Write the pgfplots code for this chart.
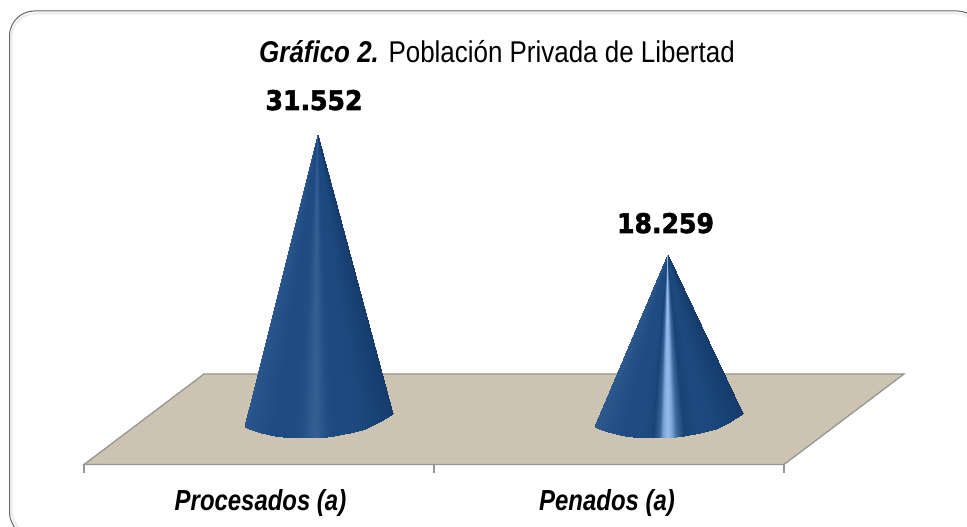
\documentclass[border=0pt]{standalone}
\usepackage{pgfplots}
\pgfplotsset{compat=1.18}
\usepgfplotslibrary{patchplots}
\usepackage{fontspec}
\setmainfont{Liberation Sans}
\newfontfamily\numfont[FakeBold=2.2]{DejaVu Sans Bold}
\definecolor{floorc}{RGB}{204,195,176}
\definecolor{floorl}{RGB}{150,150,146}
\begin{document}
\begin{tikzpicture}
\begin{axis}[
  scale only axis, width=967pt, height=527pt,
  xmin=0, xmax=967, ymin=-11878, ymax=46514,
  hide axis,
  point meta min=0, point meta max=1,
  colormap={cone}{rgb255(0cm)=(18,54,98); rgb255(2cm)=(28,73,127); rgb255(5cm)=(58,102,154); rgb255(10cm)=(150,188,239)},
]
\fill[white] (rel axis cs:0,0) rectangle (rel axis cs:1,1);
% frame
\draw[black!7, line width=2pt, rounded corners=24pt] (axis cs:11.5,45020) rectangle (axis cs:980,-12700);
\draw[black!60, line width=1pt, rounded corners=25pt] (axis cs:9.5,45297) rectangle (axis cs:982,-12989);
% floor
\addplot[fill=floorc, draw=floorl, line width=1.3pt] coordinates {(84,-4953)(784,-4953)(904,5075)(204,5075)} -- cycle;
\addplot[draw=floorl, line width=1.3pt] coordinates {(84,-4953)(84,-5895)};
\addplot[draw=floorl, line width=1.3pt] coordinates {(434,-4953)(434,-5895)};
\addplot[draw=floorl, line width=1.3pt] coordinates {(784,-4953)(784,-5895)};
% left cone: 31552
\addplot[patch, patch type=bilinear, shader=interp, point meta=explicit] table[x=x,y=y,meta=c] {
x y c
245 -798 .34
252 -1130 .3
318 31552 .3
318 31552 .34
252 -1130 .3
262 -1463 .26
318 31552 .26
318 31552 .3
262 -1463 .26
275 -1795 .22
318 31552 .22
318 31552 .26
275 -1795 .22
290 -1983 .22
318 31552 .22
318 31552 .22
290 -1983 .22
300 -2017 .24
318 31552 .24
318 31552 .22
300 -2017 .24
306 -2017 .3
318 31552 .3
318 31552 .24
306 -2017 .3
311 -2017 .37
318 31552 .37
318 31552 .3
311 -2017 .37
315 -2017 .43
318 31552 .43
318 31552 .37
315 -2017 .43
319 -1994 .4
318 31552 .4
318 31552 .43
319 -1994 .4
323 -1961 .32
318 31552 .32
318 31552 .4
323 -1961 .32
328 -1906 .24
318 31552 .24
318 31552 .32
328 -1906 .24
335 -1795 .2
318 31552 .2
318 31552 .24
335 -1795 .2
350 -1463 .2
318 31552 .2
318 31552 .2
350 -1463 .2
365 -1075 .18
318 31552 .18
318 31552 .2
365 -1075 .18
380 -244 .12
318 31552 .12
318 31552 .18
380 -244 .12
393 643 .06
318 31552 .06
318 31552 .12
};
% right cone: 18259
\addplot[patch, patch type=bilinear, shader=interp, point meta=explicit] table[x=x,y=y,meta=c] {
x y c
595 -798 .36
602 -1130 .32
668 18259 .32
668 18259 .36
602 -1130 .32
612 -1463 .27
668 18259 .27
668 18259 .32
612 -1463 .27
625 -1795 .22
668 18259 .22
668 18259 .27
625 -1795 .22
640 -1983 .22
668 18259 .22
668 18259 .22
640 -1983 .22
648 -2017 .2
668 18259 .2
668 18259 .22
648 -2017 .2
654 -2017 .14
668 18259 .14
668 18259 .2
654 -2017 .14
660 -2017 .45
668 18259 .45
668 18259 .14
660 -2017 .45
664 -2017 .85
668 18259 .85
668 18259 .45
664 -2017 .85
668 -1994 1
668 18259 1
668 18259 .85
668 -1994 1
672 -1961 .9
668 18259 .9
668 18259 1
672 -1961 .9
677 -1906 .55
668 18259 .55
668 18259 .9
677 -1906 .55
685 -1795 .14
668 18259 .14
668 18259 .55
685 -1795 .14
700 -1463 .2
668 18259 .2
668 18259 .14
700 -1463 .2
715 -1075 .18
668 18259 .18
668 18259 .2
715 -1075 .18
730 -244 .12
668 18259 .12
668 18259 .18
730 -244 .12
743 643 .06
668 18259 .06
668 18259 .12
};
% text
\node[anchor=base, inner sep=0pt] at (axis cs:497,39533) {\scalebox{0.865}[1]{\fontsize{30}{33}\selectfont\textbf{\textit{Gráfico 2.}} Población Privada de Libertad}};
\node[anchor=base, inner sep=0pt] at (axis cs:314,34326) {\scalebox{0.93}[1]{\numfont\fontsize{27}{30}\selectfont 31.552}};
\node[anchor=base, inner sep=0pt] at (axis cs:665.5,20697) {\scalebox{0.93}[1]{\numfont\fontsize{27}{30}\selectfont 18.259}};
\node[anchor=base, inner sep=0pt] at (axis cs:260.5,-10072) {\scalebox{0.825}[1]{\fontsize{29}{32}\selectfont\textbf{\textit{Procesados (a)}}}};
\node[anchor=base, inner sep=0pt] at (axis cs:607,-10072) {\scalebox{0.825}[1]{\fontsize{29}{32}\selectfont\textbf{\textit{Penados (a)}}}};
\end{axis}
\end{tikzpicture}
\end{document}
